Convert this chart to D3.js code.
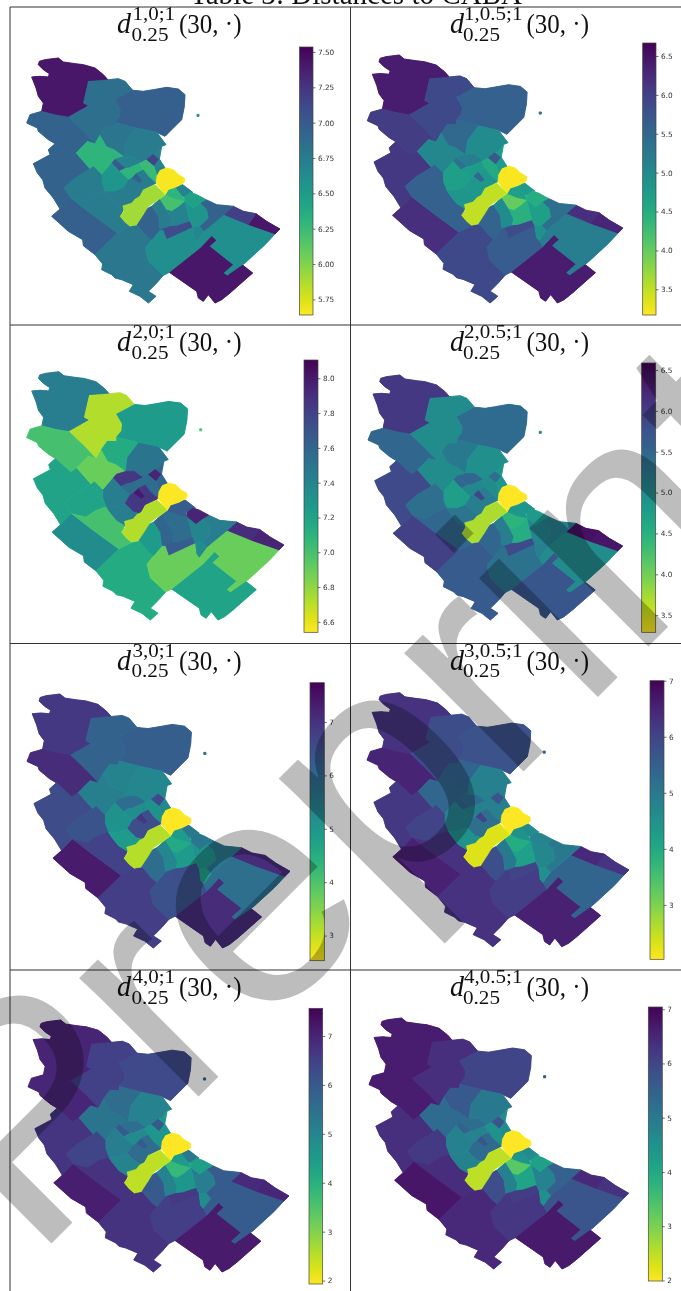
<!DOCTYPE html>
<html><head><meta charset="utf-8">
<script src="https://cdn.jsdelivr.net/npm/d3@7"></script>
<style>html,body{margin:0;padding:0;background:#fff;overflow:hidden}svg{display:block}</style>
</head><body><svg id="c" width="681" height="1291"></svg>
<script>
// ---------- data ----------
const pageTitle = "Table 3: Distances to CABA";
const superscripts = ["1,0;1","1,0.5;1","2,0;1","2,0.5;1","3,0;1","3,0.5;1","4,0;1","4,0.5;1"];
const subscriptLabel = "0.25", argumentLabel = "(30, ·)";
// district outlines in map units
const districtShapes = {
 A:[[118,185],[135,180],[175,175],[190,187],[225,192],[250,195],[285,205],[310,225],[325,242],[265,245],[250,310],[265,318],[205,352],[165,345],[125,335],[130,310],[115,290],[108,265],[95,232],[120,230],[145,232],[148,222],[130,210],[115,195]],
 B:[[265,245],[325,240],[355,237],[375,245],[398,272],[345,300],[362,330],[360,350],[345,368],[345,380],[318,380],[300,405],[285,432],[250,395],[205,352],[265,318],[250,310]],
 C:[[345,300],[398,272],[430,275],[460,270],[500,263],[535,268],[555,285],[553,320],[545,360],[525,380],[495,410],[470,398],[410,385],[360,372],[345,368],[360,350],[362,330]],
 D:[[80,370],[90,345],[125,335],[165,345],[205,352],[250,395],[285,432],[262,425],[228,460],[210,473],[165,432],[145,420],[115,395],[112,385]],
 E:[[100,492],[150,465],[145,450],[165,432],[210,473],[228,460],[270,508],[225,535],[192,565],[212,595],[180,628],[160,595],[135,565],[128,540],[112,520]],
 F:[[228,460],[262,425],[285,432],[300,405],[320,440],[345,450],[372,470],[345,478],[335,490],[305,525],[280,500],[270,508]],
 G:[[155,650],[180,628],[212,595],[270,640],[352,700],[285,765],[250,738],[248,720],[205,695]],
 H:[[285,765],[352,700],[395,678],[415,678],[440,708],[455,720],[435,745],[445,785],[490,827],[470,850],[445,875],[468,890],[445,910],[420,890],[388,875],[400,855],[365,840],[345,835],[335,825],[305,810],[308,793]],
 I:[[508,818],[600,745],[635,708],[650,722],[630,740],[700,795],[672,820],[682,827],[720,790],[758,820],[690,880],[665,900],[645,910],[625,885],[610,905],[595,895],[590,875]],
 J:[[590,725],[612,695],[672,645],[745,675],[825,703],[795,735],[735,790],[682,827],[672,820],[700,795],[630,740],[650,722],[635,708],[600,745]],
 K:[[435,745],[455,720],[480,690],[490,690],[500,718],[578,682],[582,715],[590,725],[600,745],[508,818],[490,827],[445,785]],
 L:[[745,675],[768,642],[800,665],[840,688],[825,703]],
 M:[[672,645],[700,620],[730,635],[768,642],[745,675]],
 N:[[598,680],[625,655],[620,630],[600,610],[618,600],[650,615],[700,620],[672,645],[612,695]],
 O:[[300,405],[318,380],[345,380],[345,368],[360,372],[410,385],[378,428],[372,470],[345,450],[320,440]],
 P:[[378,428],[410,385],[470,398],[498,435],[485,440],[470,460],[440,480],[425,490],[398,470],[372,470]],
 Q:[[438,480],[460,463],[478,478],[462,500]],
 R:[[470,460],[485,440],[478,478],[495,505],[480,512],[472,530],[462,500],[478,478],[460,463]],
 S:[[335,490],[345,478],[378,505],[358,515]],
 T:[[345,478],[372,470],[398,470],[425,490],[385,505],[378,505]],
 U:[[358,515],[378,505],[385,505],[420,490],[430,510],[410,520],[395,535],[385,540]],
 V:[[420,490],[438,480],[462,500],[472,530],[468,550],[445,530],[430,510]],
 W:[[305,525],[335,490],[358,515],[385,540],[370,565],[345,575],[315,575],[305,550]],
 X:[[395,535],[410,520],[430,545],[418,552]],
 Y:[[385,540],[395,535],[418,552],[430,545],[410,520],[430,510],[445,530],[468,550],[430,570],[415,595],[395,590],[370,565]],
 Z:[[192,565],[225,535],[270,508],[280,500],[305,525],[305,550],[315,575],[285,585],[255,605],[212,595]],
 AA:[[212,595],[255,605],[285,585],[315,575],[325,590],[345,615],[370,630],[360,650],[375,668],[390,680],[395,678],[352,700],[270,640]],
 BB:[[315,575],[345,575],[370,565],[395,590],[415,595],[400,605],[385,622],[370,630],[345,615],[325,590]],
 AB:[[410,675],[435,630],[455,620],[475,650],[480,690],[455,720],[440,708],[415,678]],
 AC:[[455,620],[480,598],[500,630],[515,660],[510,680],[480,690],[475,650]],
 AD:[[480,598],[495,588],[515,575],[555,605],[535,622],[515,635],[500,630]],
 AK:[[497,587],[505,570],[525,562],[548,590],[555,605],[525,598]],
 AE:[[500,630],[515,635],[535,622],[555,605],[570,665],[530,678],[510,680],[515,660]],
 AF:[[480,690],[510,680],[530,678],[570,665],[578,682],[500,718],[490,690]],
 AG:[[555,605],[580,625],[600,610],[620,630],[625,655],[598,680],[578,682],[570,665]],
 AH:[[578,682],[598,680],[612,695],[590,725],[582,715]],
 AI:[[553,590],[570,578],[590,585],[618,600],[600,610],[580,625],[555,605]],
 AJ:[[525,562],[548,555],[578,578],[570,578],[553,590],[548,590]],
 CY:[[468,550],[470,530],[480,512],[500,505],[520,510],[535,525],[553,535],[553,548],[530,562],[505,570],[495,585]],
 YG:[[360,650],[372,635],[368,618],[395,610],[405,598],[420,590],[430,570],[465,555],[495,585],[475,600],[445,620],[430,645],[410,675],[390,680],[375,668]],
 IS:[[591,344],[597,344],[597,350],[591,350]]
};
const districts = Object.keys(districtShapes);
// values per panel, same order as the districts
const values1 = [7.42,6.85,6.97,6.95,6.95,6.3,6.97,6.78,7.42,6.6,6.6,7.42,7.18,6.95,6.8,6.75,7.15,6.7,7.0,6.7,6.3,6.25,6.55,6.95,6.75,6.75,6.75,6.75,6.95,6.75,6.2,6.3,6.7,7.1,6.55,6.65,6.45,6.7,5.66,5.9,6.6];
const values2 = [6.4,5.9,5.6,6.05,6.1,5.05,6.2,5.9,6.4,5.2,5.65,6.3,6.2,5.4,5.5,5.0,5.7,4.75,5.35,5.2,4.75,4.55,4.7,5.5,4.8,5.6,5.6,4.85,5.55,5.0,4.0,4.7,4.45,5.85,4.7,4.9,4.5,4.75,3.2,3.5,5.4];
const values3 = [7.45,6.72,7.25,7.0,7.2,6.9,7.35,7.15,7.2,6.9,6.9,7.95,7.9,7.45,7.15,7.5,7.95,7.6,7.85,7.85,7.55,7.55,7.45,8.0,7.85,7.2,7.0,7.45,7.25,7.6,7.55,7.65,7.55,7.65,7.4,7.35,7.95,7.65,6.55,6.72,6.95];
const values4 = [6.05,5.0,5.45,5.5,5.85,5.0,5.95,5.65,5.7,5.0,5.35,6.4,6.45,5.2,5.25,4.95,5.4,4.85,5.5,5.5,5.05,5.0,4.75,5.9,5.2,5.4,5.5,5.3,5.5,5.2,4.45,4.85,4.55,5.85,5.1,5.15,4.8,4.85,3.3,3.7,5.0];
const values5 = [6.9,6.1,6.2,7.1,6.55,5.5,7.35,6.8,7.1,5.85,6.45,7.1,7.1,5.7,5.4,5.35,6.6,5.3,5.9,5.9,5.2,5.1,5.1,6.9,6.5,6.4,6.7,4.9,5.9,5.35,4.6,4.9,4.9,6.5,5.1,4.8,5.7,5.65,2.55,3.1,5.9];
const values6 = [6.3,5.85,5.75,6.5,6.2,5.35,6.55,6.3,6.55,5.4,6.1,6.25,6.45,5.0,5.4,4.85,5.7,4.9,5.4,5.3,4.85,4.85,4.8,6.0,5.2,6.0,6.3,4.5,5.8,5.0,3.95,4.5,4.2,6.0,4.7,4.55,4.75,4.6,2.05,2.3,5.4];
const values7 = [7.0,6.5,6.3,6.95,6.7,5.4,7.1,6.75,7.15,5.95,6.55,6.95,6.9,5.95,5.6,5.1,6.0,4.6,6.0,5.55,4.9,4.6,5.2,6.0,5.6,6.4,6.75,5.05,6.0,5.05,3.8,4.5,4.6,6.6,5.2,4.85,4.4,5.3,1.95,2.5,6.0];
const values8 = [6.65,6.35,6.0,6.65,6.35,5.3,6.75,6.45,6.7,5.7,6.25,6.3,6.45,5.5,5.65,5.0,5.7,4.6,5.5,5.25,4.8,4.5,4.85,5.7,5.3,6.2,6.4,4.85,5.85,4.85,3.3,4.4,4.1,6.15,4.8,4.55,4.15,4.65,2.0,2.5,5.7];
const panelValues = [values1,values2,values3,values4,values5,values6,values7,values8];
const barDomains = [[5.64,7.535],[3.17,6.667],[6.54,8.105],[3.29,6.586],[2.53,7.736],[2.03,7.0],[1.93,7.566],[1.99,7.04]];
const barTicks = [[5.75,6,6.25,6.5,6.75,7,7.25,7.5],[3.5,4,4.5,5,5.5,6,6.5],[6.6,6.8,7,7.2,7.4,7.6,7.8,8],[3.5,4,4.5,5,5.5,6,6.5],[3,4,5,6,7],[3,4,5,6,7],[2,3,4,5,6,7],[2,3,4,5,6,7]];
const tickFormats = [".2f",".1f",".1f",".1f","d","d","d","d"];
const watermarkText = "Preprint";

// ---------- layout ----------
const rowLines = [7,325,643.5,970];
const colLines = [10,350.5];
const panelBoxes = [
 {mx:[26.7,280],  my:[58,303],     bx:[299.5,313], by:[47,315]},
 {mx:[367.3,623], my:[55,303],     bx:[642.7,656], by:[43,315]},
 {mx:[26.7,284],  my:[371.7,620],  bx:[304,318],   by:[360,632.3]},
 {mx:[368,622.7], my:[375,620],    bx:[641.7,655.7],by:[363,632.3]},
 {mx:[27,290],    my:[694,948],    bx:[310,324.3], by:[682.7,960.7]},
 {mx:[367,629],   my:[692.7,946.7],bx:[650,664],   by:[680.7,959.3]},
 {mx:[28,289],    my:[1020,1272],  bx:[309,322.7], by:[1008.3,1284]},
 {mx:[369,628.7], my:[1018,1269],  bx:[648.3,662.3],by:[1007,1281]}
];
const serif = "'Liberation Serif',serif";
const svg = d3.select("#c");
const defs = svg.append("defs");
const root = svg.append("g").style("filter","blur(0.3px)");
const viridisR = t => d3.interpolateViridis(1-t);

root.append("text").attr("x",190).attr("y",3.5).attr("font-family",serif).attr("font-size",31)
  .attr("textLength",332).attr("lengthAdjust","spacingAndGlyphs").attr("fill","#111").text(pageTitle);
rowLines.forEach(y=>root.append("line").attr("x1",10).attr("x2",681).attr("y1",y).attr("y2",y).attr("stroke","#333").attr("stroke-width",1));
colLines.forEach(x=>root.append("line").attr("x1",x).attr("x2",x).attr("y1",7).attr("y2",1291).attr("stroke","#333").attr("stroke-width",1));

panelBoxes.forEach((b,i)=>{
  const g = root.append("g");
  const sx = d3.scaleLinear().domain([80,840]).range(b.mx);
  const sy = d3.scaleLinear().domain([175,910]).range(b.my);
  const col = d3.scaleSequential(barDomains[i],t=>viridisR(t));
  const line = d3.line().x(d=>sx(d[0])).y(d=>sy(d[1])).curve(d3.curveLinearClosed);
  const rows = districts.map((k,j)=>({k,v:panelValues[i][j]}));
  g.selectAll("path.u").data(rows).join("path").attr("class","u")
    .attr("d",d=>line(districtShapes[d.k])).attr("fill",d=>col(d.v)).attr("stroke",d=>col(d.v)).attr("stroke-width",0.9).attr("stroke-linejoin","miter");
  g.selectAll("path.t").data(rows).join("path").attr("class","t")
    .attr("d",d=>line(districtShapes[d.k])).attr("fill",d=>col(d.v)).attr("stroke",d=>d3.color(col(d.v)).brighter(0.35)).attr("stroke-width",0.25);

  const id="g"+i, gr=defs.append("linearGradient").attr("id",id).attr("x1",0).attr("x2",0).attr("y1",1).attr("y2",0);
  d3.range(0,1.0001,0.05).forEach(t=>gr.append("stop").attr("offset",t).attr("stop-color",viridisR(t)));
  g.append("rect").attr("x",b.bx[0]).attr("y",b.by[0]).attr("width",b.bx[1]-b.bx[0]).attr("height",b.by[1]-b.by[0])
    .attr("fill",`url(#${id})`).attr("stroke","#444").attr("stroke-width",0.7);
  const yBar = d3.scaleLinear().domain(barDomains[i]).range([b.by[1],b.by[0]]);
  const ax = g.append("g").attr("transform",`translate(${b.bx[1]},0)`)
    .call(d3.axisRight(yBar).tickValues(barTicks[i]).tickSize(2.5).tickPadding(2.5).tickFormat(d3.format(tickFormats[i])));
  ax.select(".domain").remove();
  ax.selectAll("line").attr("stroke","#333").attr("stroke-width",0.7);
  ax.selectAll("text").attr("font-family","'DejaVu Sans',sans-serif").attr("font-size",7.3).attr("fill","#333");

  const long = i%2===1, line0 = rowLines[i>>1];
  const x0 = long?450:117;
  const t = (s,x,y,fs,w,st)=>g.append("text").attr("x",x).attr("y",y).attr("font-family",serif).attr("font-size",fs)
     .attr("font-style",st||"normal").attr("fill","#111").attr("textLength",w).attr("lengthAdjust","spacingAndGlyphs").text(s);
  t("d",x0,line0+26,29,14,"italic");
  t(superscripts[i],x0+(long?14:15.5),line0+13,18,long?58.5:42.5);
  t(subscriptLabel,x0+(long?13:14.5),line0+33.7,18,37);
  t(argumentLabel,x0+(long?76.5:62),line0+26,27,62.5);
});

// watermark
svg.append("text").attr("transform","translate(33,1262) rotate(-45)")
  .attr("font-family","'Liberation Sans',sans-serif").attr("font-size",318).attr("font-weight",400)
  .attr("stroke","#000").attr("stroke-opacity",0).attr("fill","#000").attr("fill-opacity",0.26).text(watermarkText);
</script></body></html>
